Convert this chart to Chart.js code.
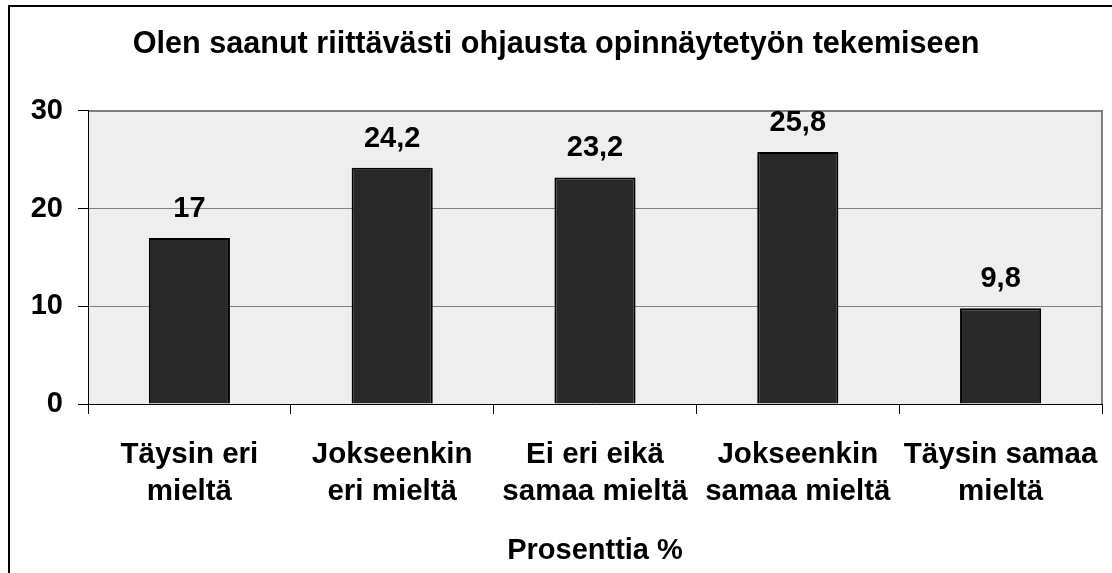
<!DOCTYPE html>
<html><head><meta charset="utf-8">
<script src="https://cdn.jsdelivr.net/npm/chart.js@4/dist/chart.umd.min.js"></script>
<style>html,body{margin:0;padding:0;background:#fff;overflow:hidden}canvas{display:block}</style>
</head><body>
<canvas id="c" width="1112" height="573"></canvas>
<script>
const categories = [['Täysin eri','mieltä'],['Jokseenkin','eri mieltä'],['Ei eri eikä','samaa mieltä'],['Jokseenkin','samaa mieltä'],['Täysin samaa','mieltä']];
const values = [17, 24.2, 23.2, 25.8, 9.8];
const yTicks = [0, 10, 20, 30];
const titleText = 'Olen saanut riittävästi ohjausta opinnäytetyön tekemiseen';
const xAxisTitle = 'Prosenttia %';

const FONT = '"Liberation Sans", Arial, Helvetica, sans-serif';
Chart.defaults.font.family = FONT;
Chart.defaults.color = '#000';

const framePlugin = {
  id: 'frame',
  beforeDraw(chart) {
    const ctx = chart.ctx, a = chart.chartArea;
    ctx.save();
    ctx.fillStyle = '#fff';
    ctx.fillRect(0, 0, chart.width, chart.height);
    ctx.strokeStyle = '#000';
    ctx.lineWidth = 2;
    ctx.beginPath();
    ctx.moveTo(9, chart.height + 5);
    ctx.lineTo(9, 6);
    ctx.lineTo(chart.width + 5, 6);
    ctx.stroke();
    ctx.fillStyle = '#EEEEEE';
    ctx.fillRect(a.left, a.top, a.right - a.left, a.bottom - a.top);
    ctx.strokeStyle = '#808080';
    ctx.lineWidth = 2;
    ctx.beginPath();
    ctx.moveTo(a.left, a.top);
    ctx.lineTo(a.right, a.top);
    ctx.lineTo(a.right, a.bottom);
    ctx.stroke();
    ctx.restore();
  }
};

const labelPlugin = {
  id: 'valueLabels',
  afterDatasetsDraw(chart) {
    const ctx = chart.ctx;
    const meta = chart.getDatasetMeta(0);
    ctx.save();
    ctx.font = 'bold 29px ' + FONT;
    ctx.fillStyle = '#000';
    ctx.textAlign = 'center';
    ctx.textBaseline = 'alphabetic';
    meta.data.forEach((bar, i) => {
      ctx.fillText(String(values[i]).replace('.', ','), bar.x, bar.y - 21);
    });
    ctx.restore();
  }
};

new Chart(document.getElementById('c'), {
  type: 'bar',
  data: {
    labels: categories,
    datasets: [{
      data: values,
      backgroundColor: '#292929',
      borderColor: '#000',
      borderWidth: 2,
      barPercentage: 0.4,
      categoryPercentage: 1.0
    }]
  },
  options: {
    responsive: false,
    animation: false,
    devicePixelRatio: 1,
    layout: { padding: { left: 10, right: 10, top: 10, bottom: 0 } },
    plugins: {
      legend: { display: false },
      tooltip: { enabled: false },
      title: {
        display: true,
        text: titleText,
        font: { size: 30.6, weight: 'bold', lineHeight: 1.176 },
        color: '#000',
        padding: { top: 17, bottom: 48 }
      }
    },
    scales: {
      x: {
        offset: true,
        grid: { drawOnChartArea: false, drawTicks: true, tickLength: 10, color: '#000', offset: true },
        border: { display: true, color: '#000', width: 1 },
        ticks: { font: { size: 29.5, weight: 'bold', lineHeight: 1.26 }, color: '#000', padding: 22, maxRotation: 0, autoSkip: false },
        title: { display: true, text: xAxisTitle, font: { size: 29, weight: 'bold', lineHeight: 1.2 }, color: '#000', padding: { top: 0, bottom: 5 } },
        afterFit(scale) { scale.height = 169; scale.paddingLeft = 0; scale.paddingRight = 0; }
      },
      y: {
        min: 0, max: 30,
        afterBuildTicks(scale) { scale.ticks = yTicks.map(v => ({ value: v })); },
        grid: { color: '#808080', tickColor: '#000', tickLength: 10, lineWidth: 1 },
        border: { display: true, color: '#000', width: 1 },
        ticks: { font: { size: 29, weight: 'bold' }, color: '#000', padding: 15 },
        afterFit(scale) { scale.width = 78; scale.paddingTop = 0; scale.paddingBottom = 0; }
      }
    }
  },
  plugins: [framePlugin, labelPlugin]
});
</script>
</body></html>
